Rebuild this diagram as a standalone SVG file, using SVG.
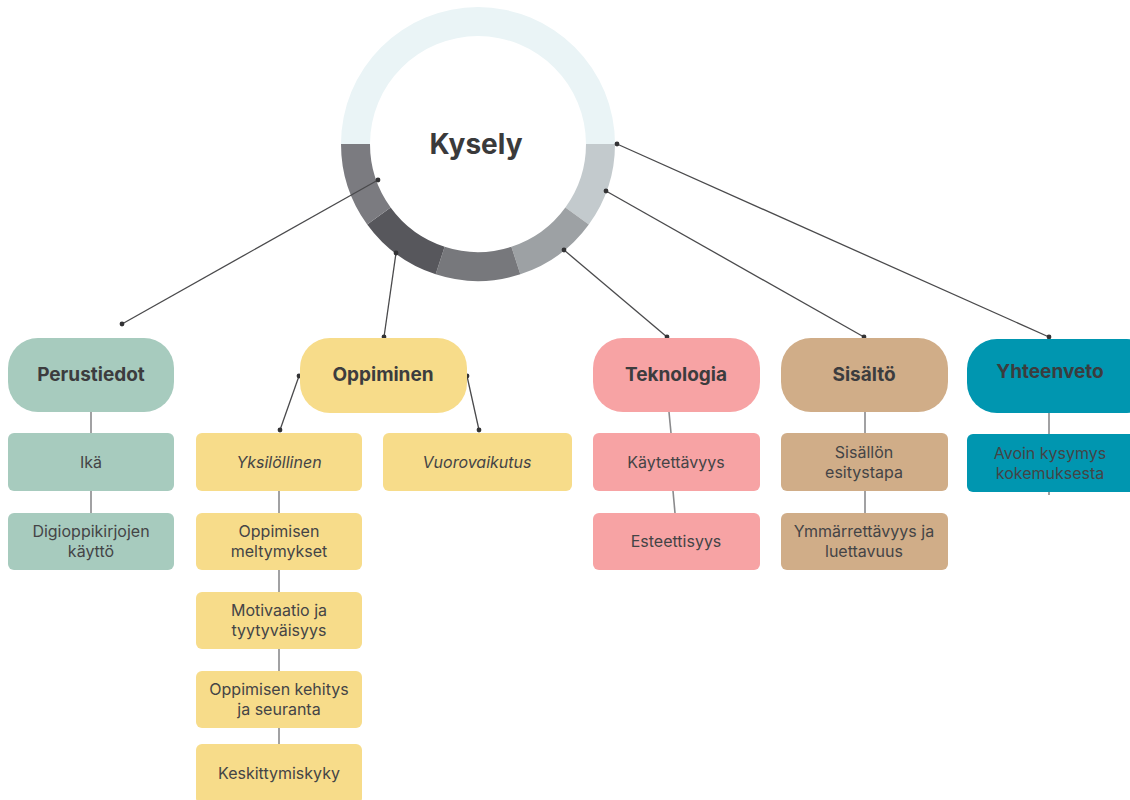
<svg xmlns="http://www.w3.org/2000/svg" width="1130" height="800" viewBox="0 0 1130 800">
  <style>
    text { font-family: Inter, "Liberation Sans", sans-serif; fill: #444446; text-anchor: middle; }
    .title { font-size: 19px; font-weight: 700; fill: #3c3c3e; }
    .item { font-size: 16px; }
    .it { font-style: italic; }
    .hub { font-size: 28px; font-weight: 700; fill: #3a3a3b; }
    .edge { stroke: #4a4a4c; stroke-width: 1.3; fill: none; }
    .stem { stroke: #8a8a8c; stroke-width: 1.6; fill: none; }
    .dot { fill: #333335; }
    .green { fill: #a7cbbe; }
    .yellow { fill: #f7dc8a; }
    .pink { fill: #f7a3a4; }
    .tan { fill: #d0ad88; }
    .teal { fill: #0096b0; }
  </style>

  <!-- central ring -->
  <g id="kysely">
    <path d="M341,144 A137,137 0 0 1 615,144 L586,144 A108,108 0 0 0 370,144 Z" fill="#eaf4f6"/>
    <path d="M615,144 A137,137 0 0 1 588.83,224.53 L565.37,207.48 A108,108 0 0 0 586,144 Z" fill="#c3cacd"/>
    <path d="M588.83,224.53 A137,137 0 0 1 520.33,274.3 L511.37,246.72 A108,108 0 0 0 565.37,207.48 Z" fill="#9da1a4"/>
    <path d="M520.33,274.3 A137,137 0 0 1 435.67,274.3 L444.63,246.72 A108,108 0 0 0 511.37,246.72 Z" fill="#77787c"/>
    <path d="M435.67,274.3 A137,137 0 0 1 367.17,224.53 L390.63,207.48 A108,108 0 0 0 444.63,246.72 Z" fill="#57575c"/>
    <path d="M367.17,224.53 A137,137 0 0 1 341,144 L370,144 A108,108 0 0 0 390.63,207.48 Z" fill="#7b7b80"/>
    <text class="hub" x="476" y="154">Kysely</text>
  </g>

  <!-- connectors -->
  <g id="connectors">
    <line class="edge" x1="378" y1="180" x2="122" y2="324"/>
    <line class="edge" x1="396" y1="253" x2="384" y2="337"/>
    <line class="edge" x1="564" y1="250" x2="667" y2="337"/>
    <line class="edge" x1="606" y1="191" x2="864" y2="337"/>
    <line class="edge" x1="617" y1="144" x2="1049" y2="337"/>
    <line class="edge" x1="299" y1="376" x2="280" y2="430"/>
    <line class="edge" x1="467" y1="376" x2="479" y2="430"/>
    <circle class="dot" cx="378" cy="180" r="2.4"/>
    <circle class="dot" cx="122" cy="324" r="2.4"/>
    <circle class="dot" cx="396" cy="253" r="2.4"/>
    <circle class="dot" cx="384" cy="337" r="2.4"/>
    <circle class="dot" cx="564" cy="250" r="2.4"/>
    <circle class="dot" cx="667" cy="337" r="2.4"/>
    <circle class="dot" cx="606" cy="191" r="2.4"/>
    <circle class="dot" cx="864" cy="337" r="2.4"/>
    <circle class="dot" cx="617" cy="144" r="2.4"/>
    <circle class="dot" cx="1049" cy="337" r="2.4"/>
    <circle class="dot" cx="299" cy="376" r="2.4"/>
    <circle class="dot" cx="280" cy="430" r="2.4"/>
    <circle class="dot" cx="467" cy="376" r="2.4"/>
    <circle class="dot" cx="479" cy="430" r="2.4"/>
    <!-- stems between stacked boxes -->
    <line class="stem" x1="91" y1="412" x2="91" y2="433"/>
    <line class="stem" x1="91" y1="491" x2="91" y2="513"/>
    <line class="stem" x1="279" y1="491" x2="279" y2="513"/>
    <line class="stem" x1="279" y1="570" x2="279" y2="592"/>
    <line class="stem" x1="279" y1="649" x2="279" y2="671"/>
    <line class="stem" x1="279" y1="728" x2="279" y2="744"/>
    <line class="stem" x1="669" y1="412" x2="671" y2="433"/>
    <line class="stem" x1="673" y1="491" x2="675" y2="513"/>
    <line class="stem" x1="865" y1="412" x2="865" y2="433"/>
    <line class="stem" x1="865" y1="491" x2="865" y2="513"/>
    <line class="stem" x1="1049" y1="413" x2="1049" y2="434"/>
    <line class="stem" x1="1049" y1="492" x2="1049" y2="495"/>
  </g>

  <!-- Perustiedot -->
  <g id="perustiedot">
    <rect class="green" x="8" y="338" width="166" height="74" rx="30"/>
    <text class="title" x="91" y="381">Perustiedot</text>
  </g>
  <g id="ika">
    <rect class="green" x="8" y="433" width="166" height="58" rx="6"/>
    <text class="item" x="91" y="468">Ikä</text>
  </g>
  <g id="digioppikirjat">
    <rect class="green" x="8" y="513" width="166" height="57" rx="6"/>
    <text class="item" x="91" y="537">Digioppikirjojen</text>
    <text class="item" x="91" y="557">käyttö</text>
  </g>

  <!-- Oppiminen -->
  <g id="oppiminen">
    <rect class="yellow" x="300" y="338" width="167" height="75" rx="30"/>
    <text class="title" x="383" y="381">Oppiminen</text>
  </g>
  <g id="yksilollinen">
    <rect class="yellow" x="196" y="433" width="166" height="58" rx="6"/>
    <text class="item it" x="279" y="468">Yksilöllinen</text>
  </g>
  <g id="mieltymykset">
    <rect class="yellow" x="196" y="513" width="166" height="57" rx="6"/>
    <text class="item" x="279" y="537">Oppimisen</text>
    <text class="item" x="279" y="557">meltymykset</text>
  </g>
  <g id="motivaatio">
    <rect class="yellow" x="196" y="592" width="166" height="57" rx="6"/>
    <text class="item" x="279" y="616">Motivaatio ja</text>
    <text class="item" x="279" y="636">tyytyväisyys</text>
  </g>
  <g id="kehitys">
    <rect class="yellow" x="196" y="671" width="166" height="57" rx="6"/>
    <text class="item" x="279" y="695">Oppimisen kehitys</text>
    <text class="item" x="279" y="715">ja seuranta</text>
  </g>
  <g id="keskittymiskyky">
    <rect class="yellow" x="196" y="744" width="166" height="60" rx="6"/>
    <text class="item" x="279" y="779">Keskittymiskyky</text>
  </g>
  <g id="vuorovaikutus">
    <rect class="yellow" x="383" y="433" width="189" height="58" rx="6"/>
    <text class="item it" x="477" y="468">Vuorovaikutus</text>
  </g>

  <!-- Teknologia -->
  <g id="teknologia">
    <rect class="pink" x="593" y="338" width="167" height="74" rx="30"/>
    <text class="title" x="676" y="381">Teknologia</text>
  </g>
  <g id="kaytettavyys">
    <rect class="pink" x="593" y="433" width="167" height="58" rx="6"/>
    <text class="item" x="676" y="468">Käytettävyys</text>
  </g>
  <g id="esteettisyys">
    <rect class="pink" x="593" y="513" width="167" height="57" rx="6"/>
    <text class="item" x="676" y="547">Esteettisyys</text>
  </g>

  <!-- Sisältö -->
  <g id="sisalto">
    <rect class="tan" x="781" y="338" width="167" height="74" rx="30"/>
    <text class="title" x="864" y="381">Sisältö</text>
  </g>
  <g id="esitystapa">
    <rect class="tan" x="781" y="433" width="167" height="58" rx="6"/>
    <text class="item" x="864" y="458">Sisällön</text>
    <text class="item" x="864" y="478">esitystapa</text>
  </g>
  <g id="ymmarrettavyys">
    <rect class="tan" x="781" y="513" width="167" height="57" rx="6"/>
    <text class="item" x="864" y="537">Ymmärrettävyys ja</text>
    <text class="item" x="864" y="557">luettavuus</text>
  </g>

  <!-- Yhteenveto -->
  <g id="yhteenveto">
    <rect class="teal" x="967" y="339" width="190" height="74" rx="30"/>
    <text class="title" x="1050" y="378">Yhteenveto</text>
  </g>
  <g id="avoin">
    <rect class="teal" x="967" y="434" width="190" height="58" rx="6"/>
    <text class="item" x="1050" y="459">Avoin kysymys</text>
    <text class="item" x="1050" y="479">kokemuksesta</text>
  </g>
</svg>
